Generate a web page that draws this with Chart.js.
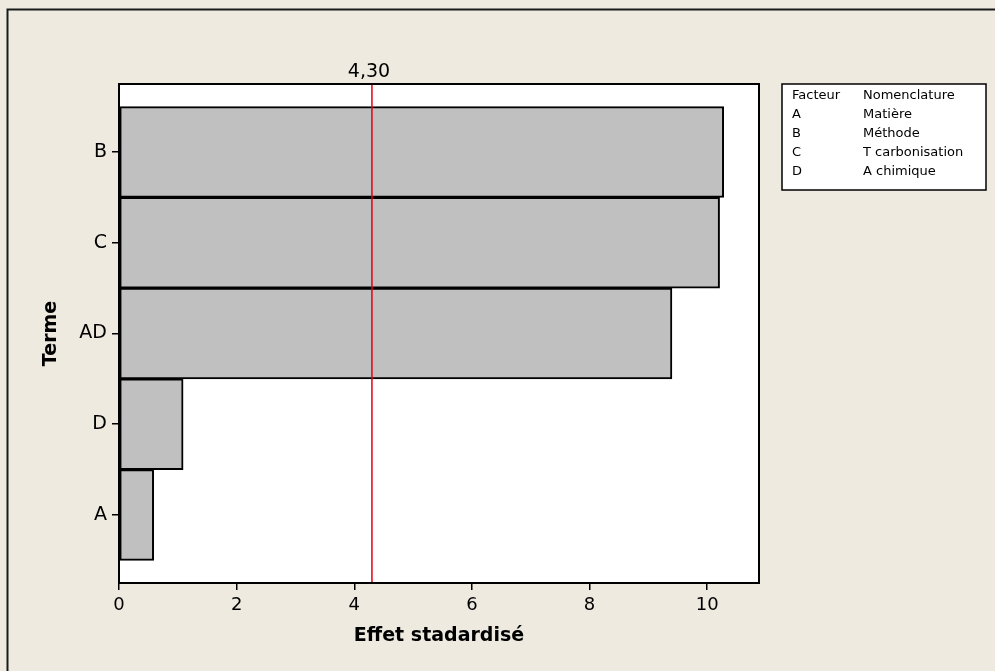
<!DOCTYPE html>
<html>
<head>
<meta charset="utf-8">
<script src="https://cdn.jsdelivr.net/npm/chart.js@4.4.1/dist/chart.umd.min.js"></script>
<style>
  html, body { margin: 0; padding: 0; background: #EEEAE0; }
  canvas { display: block; }
</style>
</head>
<body>
<canvas id="c" width="995" height="671"></canvas>
<script>
// Pareto des effets standardisés
const terms = ['B', 'C', 'AD', 'D', 'A'];
const effects = [10.28, 10.21, 9.40, 1.09, 0.59];
const xTicks = [0, 2, 4, 6, 8, 10];
const threshold = 4.30;
const thresholdLabel = '4,30';
const legendHeader = ['Facteur', 'Nomenclature'];
const factorCodes = ['A', 'B', 'C', 'D'];
const factorNames = ['Matière', 'Méthode', 'T carbonisation', 'A chimique'];

const FONT = '"DejaVu Sans", Verdana, sans-serif';

const decor = {
  id: 'decor',
  beforeDraw(chart) {
    const { ctx, chartArea: a } = chart;
    ctx.save();
    ctx.fillStyle = '#EEEAE0';
    ctx.fillRect(0, 0, chart.width, chart.height);
    // outer frame (top and left edges)
    ctx.strokeStyle = '#1a1a1a';
    ctx.lineWidth = 2;
    ctx.beginPath();
    ctx.moveTo(995, 9.5);
    ctx.lineTo(7.5, 9.5);
    ctx.lineTo(7.5, 671);
    ctx.stroke();
    // plot background
    ctx.fillStyle = '#FFFFFF';
    ctx.fillRect(a.left, a.top, a.right - a.left, a.bottom - a.top);
    ctx.restore();
  },
  afterDatasetsDraw(chart) {
    const { ctx, chartArea: a, scales } = chart;
    const xs = scales.x;
    ctx.save();
    // reference line
    const xr = xs.getPixelForValue(threshold);
    ctx.strokeStyle = '#E3000F';
    ctx.lineWidth = 1.5;
    ctx.beginPath();
    ctx.moveTo(xr, a.top);
    ctx.lineTo(xr, a.bottom);
    ctx.stroke();
    ctx.fillStyle = '#000';
    ctx.font = '19px ' + FONT;
    ctx.textAlign = 'center';
    ctx.textBaseline = 'alphabetic';
    ctx.fillText(thresholdLabel, xr - 3, 77);
    // plot frame
    ctx.strokeStyle = '#000';
    ctx.lineWidth = 2;
    ctx.strokeRect(a.left, a.top, a.right - a.left, a.bottom - a.top);
    // axis titles
    ctx.font = 'bold 19px ' + FONT;
    ctx.textBaseline = 'middle';
    ctx.fillText('Effet stadardisé', (a.left + a.right) / 2, 636);
    ctx.save();
    ctx.translate(51, (a.top + a.bottom) / 2);
    ctx.rotate(-Math.PI / 2);
    ctx.fillText('Terme', 0, 0);
    ctx.restore();
    // factor table
    const bx = 782, by = 84, bw = 204, rowH = 18.8;
    const bh = rowH * (factorCodes.length + 1) + 12;
    ctx.fillStyle = '#FFFFFF';
    ctx.fillRect(bx, by, bw, bh);
    ctx.strokeStyle = '#000';
    ctx.lineWidth = 1.5;
    ctx.strokeRect(bx, by, bw, bh);
    ctx.fillStyle = '#000';
    ctx.font = '13px ' + FONT;
    ctx.textAlign = 'left';
    ctx.textBaseline = 'middle';
    const c1 = 792, c2 = 863;
    let y = by + 12;
    ctx.fillText(legendHeader[0], c1, y);
    ctx.fillText(legendHeader[1], c2, y);
    factorCodes.forEach((code, i) => {
      y += rowH;
      ctx.fillText(code, c1, y);
      ctx.fillText(factorNames[i], c2, y);
    });
    ctx.restore();
  }
};

new Chart(document.getElementById('c'), {
  type: 'bar',
  data: {
    datasets: [{
      data: effects.map((v, i) => ({ x: v, y: i })),
      backgroundColor: '#C0C0C0',
      borderColor: '#000000',
      borderWidth: 2,
      borderSkipped: false,
      barPercentage: 1,
      categoryPercentage: 1
    }]
  },
  options: {
    indexAxis: 'y',
    responsive: false,
    animation: false,
    events: [],
    layout: { padding: { left: 0, top: 84, right: 236, bottom: 0 } },
    plugins: { legend: { display: false }, tooltip: { enabled: false } },
    scales: {
      x: {
        type: 'linear',
        min: 0,
        max: 10.88,
        afterBuildTicks: s => { s.ticks = xTicks.map(v => ({ value: v })); },
        afterFit: s => { s.height = 88; },
        grid: { drawOnChartArea: false, drawTicks: true, tickLength: 7, color: '#000', lineWidth: 1.5 },
        border: { display: true, color: '#000', width: 2 },
        ticks: { color: '#000', font: { family: FONT, size: 18 }, padding: 5, maxRotation: 0 }
      },
      y: {
        type: 'linear',
        reverse: true,
        offset: false,
        min: -0.75,
        max: 4.75,
        afterBuildTicks: s => { s.ticks = terms.map((t, i) => ({ value: i })); },
        afterFit: s => { s.width = 119; },
        grid: { offset: false, drawOnChartArea: false, drawTicks: true, tickLength: 7, color: '#000', lineWidth: 1.5 },
        border: { display: true, color: '#000', width: 2 },
        ticks: { color: '#000', font: { family: FONT, size: 19 }, padding: 5, callback: v => terms[v] }
      }
    }
  },
  plugins: [decor]
});
</script>
</body>
</html>
